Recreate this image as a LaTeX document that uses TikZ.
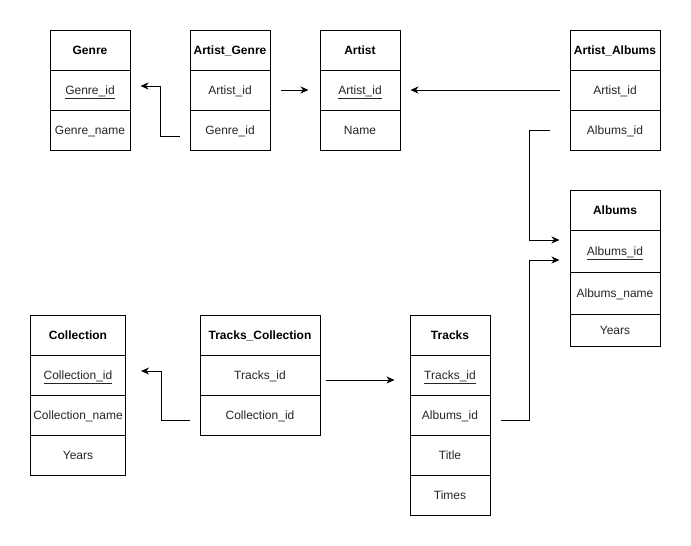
\documentclass[tikz,border=0pt]{standalone}
\usepackage{fontspec}
\setmainfont{Liberation Sans}
\usetikzlibrary{arrows.meta,calc}

\tikzset{
  cell/.style={draw=black, line width=1pt, inner sep=0pt, fill=white,
    text height=9.6pt, text depth=1.6pt,
    font=\fontsize{12}{14}\selectfont, text=black!85},
  head/.style={cell, font=\fontsize{12}{14}\selectfont\bfseries, text=black},
  fk/.style={draw=black, line width=1pt,
    -{Stealth[length=8pt,width=7pt,inset=2.5pt]}},
}

\begin{document}
\begin{tikzpicture}[x=1pt,y=-1pt]
\useasboundingbox[fill=white] (0,0) rectangle (691,546);

% ---- Genre ----
\begin{scope}[every node/.append style={minimum width=80pt, minimum height=40pt}]
\node[head] (g0) at (90,50) {Genre};
\node[cell] (g1) at (90,90) {\underline{Genre\_id}};
\node[cell] (g2) at (90,130) {Genre\_name};
\end{scope}

% ---- Artist_Genre ----
\begin{scope}[every node/.append style={minimum width=80pt, minimum height=40pt}]
\node[head] (ag0) at (230,50) {Artist\_Genre};
\node[cell] (ag1) at (230,90) {Artist\_id};
\node[cell] (ag2) at (230,130) {Genre\_id};
\end{scope}

% ---- Artist ----
\begin{scope}[every node/.append style={minimum width=80pt, minimum height=40pt}]
\node[head] (a0) at (360,50) {Artist};
\node[cell] (a1) at (360,90) {\underline{Artist\_id}};
\node[cell] (a2) at (360,130) {Name};
\end{scope}

% ---- Artist_Albums ----
\begin{scope}[every node/.append style={minimum width=90pt, minimum height=40pt}]
\node[head] (aa0) at (615,50) {Artist\_Albums};
\node[cell] (aa1) at (615,90) {Artist\_id};
\node[cell] (aa2) at (615,130) {Albums\_id};
\end{scope}

% ---- Albums ----
\begin{scope}[every node/.append style={minimum width=90pt}]
\node[head, minimum height=40pt] (al0) at (615,210) {Albums};
\node[cell, minimum height=42pt] (al1) at (615,251) {\underline{Albums\_id}};
\node[cell, minimum height=42pt] (al2) at (615,293) {Albums\_name};
\node[cell, minimum height=32pt] (al3) at (615,330) {Years};
\end{scope}

% ---- Collection ----
\begin{scope}[every node/.append style={minimum width=95pt, minimum height=40pt}]
\node[head] (c0) at (78,335) {Collection};
\node[cell] (c1) at (78,375) {\underline{Collection\_id}};
\node[cell] (c2) at (78,415) {Collection\_name};
\node[cell] (c3) at (78,455) {Years};
\end{scope}

% ---- Tracks_Collection ----
\begin{scope}[every node/.append style={minimum width=120pt, minimum height=40pt}]
\node[head] (tc0) at (260,335) {Tracks\_Collection};
\node[cell] (tc1) at (260,375) {Tracks\_id};
\node[cell] (tc2) at (260,415) {Collection\_id};
\end{scope}

% ---- Tracks ----
\begin{scope}[every node/.append style={minimum width=80pt, minimum height=40pt}]
\node[head] (t0) at (450,335) {Tracks};
\node[cell] (t1) at (450,375) {\underline{Tracks\_id}};
\node[cell] (t2) at (450,415) {Albums\_id};
\node[cell] (t3) at (450,455) {Title};
\node[cell] (t4) at (450,495) {Times};
\end{scope}

% ---- foreign keys ----
\draw[fk] ($(ag2.west)+(-10,6)$) -| ($(g1.east)+(30,-4)$) -- ($(g1.east)+(10,-4)$);
\draw[fk] ($(ag1.east)+(10,0)$) -- ($(a1.west)+(-11,0)$);
\draw[fk] ($(aa1.west)+(-10,0)$) -- ($(a1.east)+(10,0)$);
\draw[fk] ($(aa2.west)+(-20,0)$) -| ($(al1.west)+(-40,-11)$) -- ($(al1.west)+(-10,-11)$);
\draw[fk] ($(t2.east)+(10,5)$) -| ($(al1.west)+(-40,9)$) -- ($(al1.west)+(-10,9)$);
\draw[fk] ($(tc1.east)+(5,5)$) -- ($(t1.west)+(-15,5)$);
\draw[fk] ($(tc2.west)+(-10,5)$) -| ($(c1.east)+(35,-4)$) -- ($(c1.east)+(15,-4)$);
\end{tikzpicture}
\end{document}
